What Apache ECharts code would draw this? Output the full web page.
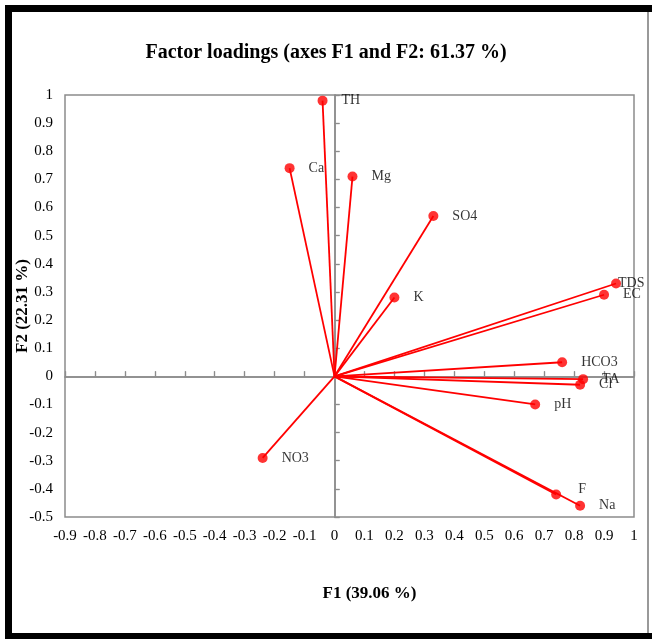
<!DOCTYPE html>
<html lang="en">
<head>
    <meta charset="UTF-8">
    <title>Factor loadings</title>
    <script src="https://cdn.jsdelivr.net/npm/echarts@6.0.0/dist/echarts.min.js"></script>
    <style>
        html, body { margin: 0; padding: 0; background: #fff; }
        #chart { width: 652px; height: 639px; }
    </style>
</head>
<body>
    <div id="chart"></div>
<script>
    // variables and their loadings on F1 / F2
    var names = ['TH', 'Ca', 'Mg', 'SO4', 'K', 'TDS', 'EC', 'HCO3', 'TA', 'Cl', 'pH', 'F', 'Na', 'NO3'];
    var f1 = [-0.04, -0.15, 0.06, 0.33, 0.2, 0.94, 0.9, 0.76, 0.83, 0.82, 0.67, 0.74, 0.82, -0.24];
    var f2 = [0.98, 0.74, 0.71, 0.57, 0.28, 0.33, 0.29, 0.05, -0.01, -0.03, -0.1, -0.42, -0.46, -0.29];

    var titleText = 'Factor loadings (axes F1 and F2: 61.37 %)';
    var xName = 'F1 (39.06 %)';
    var yName = 'F2 (22.31 %)';

    // a couple of labels sit elsewhere in the original
    var labelNudge = { TDS: [-17, 0], F: [3, -5] };

    var serif = '"Liberation Serif", "DejaVu Serif", serif';
    var gray = '#8c8c8c';
    var red = '#ff0000';

    var myChart = echarts.init(document.getElementById('chart'));

    // one line from the origin to each loading
    var series = names.map(function (n, i) {
        return {
            type: 'line',
            silent: true,
            symbol: 'none',
            lineStyle: { color: red, width: 1.8 },
            data: [[0, 0], [f1[i], f2[i]]],
            z: 3
        };
    });
    series.push({
        type: 'scatter',
        symbolSize: 10,
        itemStyle: { color: red },
        label: {
            show: true,
            position: 'right',
            distance: 14,
            fontFamily: serif,
            fontSize: 14,
            color: '#000',
            formatter: function (p) { return p.name; }
        },
        data: names.map(function (n, i) {
            var d = { name: n, value: [f1[i], f2[i]] };
            if (labelNudge[n]) d.label = { offset: labelNudge[n] };
            return d;
        }),
        z: 4
    });

    function zeroAxis(dim) {
        return {
            type: 'value', min: dim === 'x' ? -0.9 : -0.5, max: 1, interval: 0.1,
            axisLine: { show: true, onZero: true, lineStyle: { color: gray, width: 1.5 } },
            axisTick: { show: true, inside: false, length: 5, lineStyle: { color: gray, width: 1.2 } },
            axisLabel: { show: false },
            splitLine: { show: false }
        };
    }

    var option = {
        animation: false,
        title: {
            text: titleText,
            left: 'center',
            top: 38,
            textStyle: { fontFamily: serif, fontWeight: 'bold', fontSize: 20, color: '#000' }
        },
        grid: {
            left: 65, right: 18, top: 95, bottom: 122,
            outerBoundsMode: 'none',
            show: true, borderColor: gray, borderWidth: 1.5
        },
        graphic: [
            { type: 'rect', shape: { x: 5, y: 5, width: 647, height: 7 }, style: { fill: '#000' } },
            { type: 'rect', shape: { x: 5, y: 5, width: 7, height: 634 }, style: { fill: '#000' } },
            { type: 'rect', shape: { x: 5, y: 633, width: 647, height: 6 }, style: { fill: '#000' } },
            { type: 'rect', shape: { x: 647, y: 12, width: 2, height: 621 }, style: { fill: '#999' } }
        ],
        xAxis: [
            {
                type: 'value', min: -0.9, max: 1, interval: 0.1, position: 'bottom',
                axisLine: { show: false, onZero: false },
                axisTick: { show: false },
                splitLine: { show: false },
                axisLabel: { fontFamily: serif, fontSize: 15, color: '#000', margin: 12 },
                name: xName, nameLocation: 'middle', nameGap: 68,
                nameTextStyle: { fontFamily: serif, fontWeight: 'bold', fontSize: 17, color: '#000', padding: [0, 0, 0, 40] }
            },
            zeroAxis('x'),
            zeroAxis('x')
        ],
        yAxis: [
            {
                type: 'value', min: -0.5, max: 1, interval: 0.1, position: 'left',
                axisLine: { show: false, onZero: false },
                axisTick: { show: false },
                splitLine: { show: false },
                axisLabel: { fontFamily: serif, fontSize: 15, color: '#000', margin: 12 },
                name: yName, nameLocation: 'middle', nameGap: 34, nameMoveOverlap: false,
                nameTextStyle: { fontFamily: serif, fontWeight: 'bold', fontSize: 17, color: '#000' }
            },
            zeroAxis('y'),
            zeroAxis('y')
        ],
        series: series
    };
    myChart.setOption(option);
</script>
</body>
</html>
